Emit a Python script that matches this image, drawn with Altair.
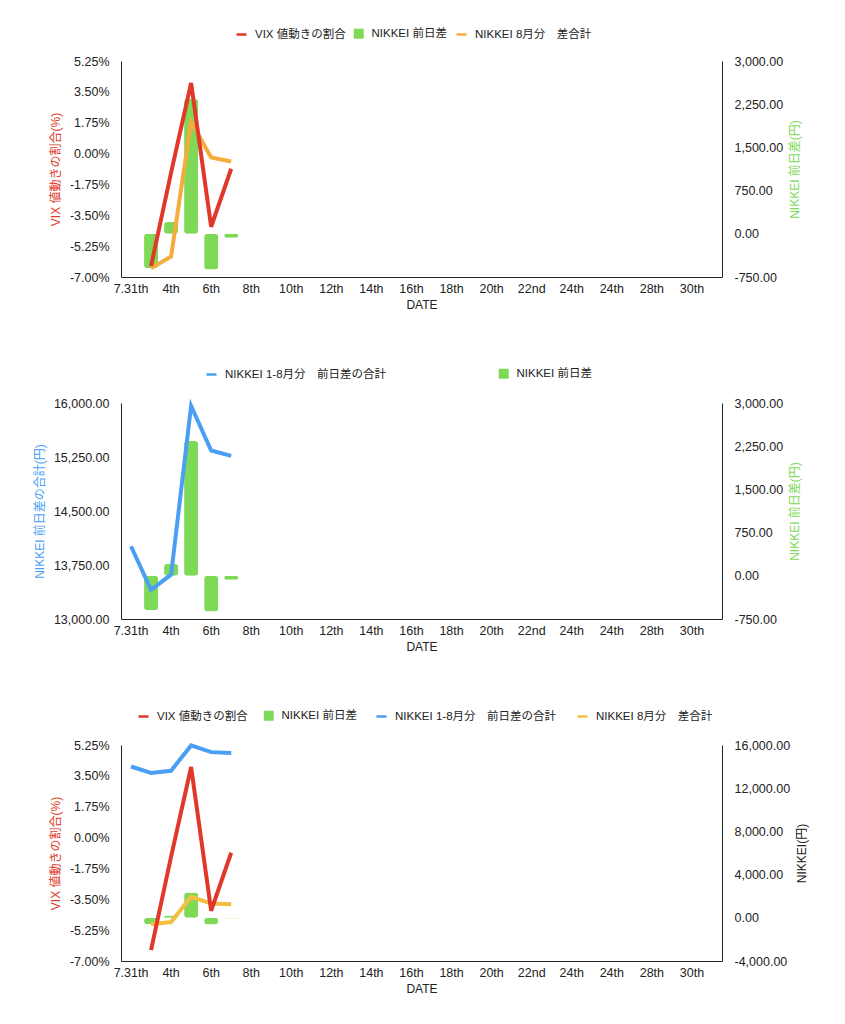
import altair as alt
import pandas as pd
import json

# ---------------- data ----------------
tick_labels = ["7.31th", "4th", "6th", "8th", "10th", "12th", "14th", "16th",
               "18th", "20th", "22nd", "24th", "24th", "28th", "30th"]
slot_count = 30
day_slots = [0, 1, 2, 3, 4, 5]

vix_change = [None, -6.38, -1.08, 4.00, -4.15, -0.86]          # %
nikkei_diff = [None, -600, 205, 2340, -620, -70]                # 円
nikkei_aug_total = [None, -600, -395, 1945, 1325, 1255]         # 円
nikkei_ytd_total = [14010, 13405, 13615, 15960, 15340, 15265]   # 円

vix_ticks = [-7.0, -5.25, -3.5, -1.75, 0.0, 1.75, 3.5, 5.25]
diff_ticks = [-750, 0, 750, 1500, 2250, 3000]
ytd_ticks = [13000, 13750, 14500, 15250, 16000]
nikkei_ticks = [-4000, 0, 4000, 8000, 12000, 16000]

S_VIX = "VIX 値動きの割合"
S_DIFF = "NIKKEI 前日差"
S_YTD = "NIKKEI 1-8月分\u3000前日差の合計"
S_AUG = "NIKKEI 8月分\u3000差合計"

RED = "#E0392A"
GREEN = "#7ED957"
BLUE = "#4A9FF5"
ORANGE1 = "#F5AC3D"
ORANGE3 = "#F3BF3F"
INK = "#222222"
FONT = "Liberation Sans, Noto Sans CJK JP"
LABEL_SIZE = 12.5
LEGEND_SIZE = 11.5

rows = []
for series, values in [(S_VIX, vix_change), (S_DIFF, nikkei_diff),
                       (S_AUG, nikkei_aug_total), (S_YTD, nikkei_ytd_total)]:
    for slot, v in zip(day_slots, values):
        if v is not None:
            rows.append({"slot": slot, "series": series, "value": v})
df = pd.DataFrame(rows)

MINUS = "\u2212"
pct_expr = f"replace(format(datum.value, '.2f'), '{MINUS}', '-') + '%'"
num_expr = f"replace(format(datum.value, ',.2f'), '{MINUS}', '-')"
x_label_expr = f"{json.dumps(tick_labels)}[datum.value / 2]"

W, H = 601, 216


def x_enc():
    return alt.X(
        "slot:O",
        scale=alt.Scale(domain=list(range(slot_count)), paddingInner=0.3, paddingOuter=0.15),
        axis=alt.Axis(values=list(range(0, slot_count, 2)), labelExpr=x_label_expr,
                      labelAngle=0, ticks=False, grid=False, domainColor=INK, domainWidth=1,
                      labelColor=INK, labelFontSize=LABEL_SIZE, labelFont=FONT, labelPadding=5,
                      title="DATE", titleFont=FONT, titleFontSize=12, titleFontWeight="normal",
                      titleColor=INK, titlePadding=5),
    )


def y_axis(orient, values, expr, title, color):
    kw = dict(orient=orient, values=values, labelExpr=expr, ticks=False, grid=False,
              domainColor=INK, domainWidth=1, labelColor=INK, labelFontSize=LABEL_SIZE,
              labelFont=FONT, labelPadding=12, title=title, titleColor=color,
              titleFont=FONT, titleFontSize=12, titleFontWeight="normal", titlePadding=7)
    if orient == "right":
        kw["titleAngle"] = 270
        kw["titleBaseline"] = "top"
    return alt.Axis(**kw)


def color_enc(series, color, lx, ly, is_bar):
    leg = alt.Legend(
        orient="none", legendX=lx, legendY=ly, direction="horizontal", title=None,
        symbolType="square" if is_bar else "stroke", symbolSize=100,
        symbolStrokeWidth=0 if is_bar else 2.5, labelOffset=7, labelFontSize=LEGEND_SIZE,
        labelFont=FONT, labelColor=INK, labelLimit=400, padding=0)
    return alt.Color("series:N", scale=alt.Scale(domain=[series], range=[color]), legend=leg)


def bar_layer(scale, axis, lx, ly):
    return alt.Chart(df).transform_filter(alt.datum.series == S_DIFF).mark_bar(
        cornerRadius=3).encode(x=x_enc(), y=alt.Y("value:Q", scale=scale, axis=axis),
                               color=color_enc(S_DIFF, GREEN, lx, ly, True))


def line_layer(series, color, scale, axis, lx, ly):
    return alt.Chart(df).transform_filter(alt.datum.series == series).mark_line(
        strokeWidth=4).encode(x=x_enc(), y=alt.Y("value:Q", scale=scale, axis=axis),
                              color=color_enc(series, color, lx, ly, False))


def indep(layer_chart, y_indep):
    res = dict(color="independent")
    if y_indep:
        res["y"] = "independent"
    return layer_chart.resolve_scale(**res).resolve_legend(color="independent")


vix_scale = alt.Scale(domain=[-7, 5.25], nice=False, zero=False)
diff_scale = alt.Scale(domain=[-750, 3000], nice=False, zero=False)
ytd_scale = alt.Scale(domain=[13000, 16000], nice=False, zero=False)
nikkei_scale = alt.Scale(domain=[-4000, 16000], nice=False, zero=False)

# ---- panel 1 ----
LY1 = -33
ax1r = y_axis("right", diff_ticks, num_expr, "NIKKEI 前日差(円)", GREEN)
ax1l = y_axis("left", vix_ticks, pct_expr, "VIX 値動きの割合(%)", RED)
panel1 = indep(alt.layer(
    indep(alt.layer(bar_layer(diff_scale, ax1r, 232, LY1),
                    line_layer(S_AUG, ORANGE1, diff_scale, ax1r, 334, LY1)), False),
    line_layer(S_VIX, RED, vix_scale, ax1l, 114, LY1),
), True).properties(width=W, height=H)

# ---- panel 2 ----
LY2 = -35
ax2r = y_axis("right", diff_ticks, num_expr, "NIKKEI 前日差(円)", GREEN)
ax2l = y_axis("left", ytd_ticks, num_expr, "NIKKEI 前日差の合計(円)", BLUE)
panel2 = indep(alt.layer(
    bar_layer(diff_scale, ax2r, 377, LY2),
    line_layer(S_YTD, BLUE, ytd_scale, ax2l, 84, LY2),
), True).properties(width=W, height=H)

# ---- panel 3 ----
LY3 = -35
ax3r = y_axis("right", nikkei_ticks, num_expr, "NIKKEI(円)", INK)
ax3l = y_axis("left", vix_ticks, pct_expr, "VIX 値動きの割合(%)", RED)
panel3 = indep(alt.layer(
    indep(alt.layer(bar_layer(nikkei_scale, ax3r, 142, LY3),
                    line_layer(S_YTD, BLUE, nikkei_scale, ax3r, 254, LY3),
                    line_layer(S_AUG, ORANGE3, nikkei_scale, ax3r, 455, LY3)), False),
    line_layer(S_VIX, RED, vix_scale, ax3l, 16, LY3),
), True).properties(width=W, height=H)

chart = alt.vconcat(panel1, panel2, panel3, spacing=57).resolve_scale(
    color="independent", y="independent").resolve_legend(color="independent").properties(
    padding={"left": 25, "top": 20, "right": 10, "bottom": 10}
).configure(font=FONT).configure_view(stroke=None)

chart.save("out.html", embed_options={"renderer": "svg", "actions": False})
